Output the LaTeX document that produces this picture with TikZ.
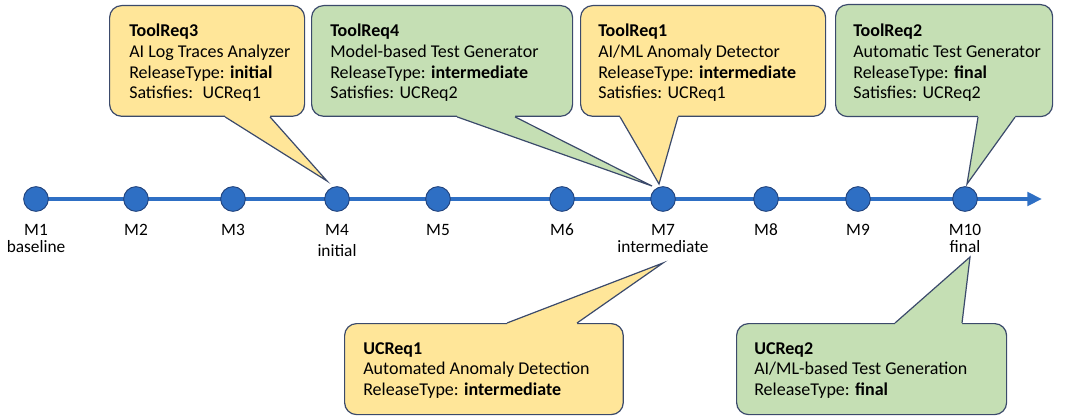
\documentclass[tikz,border=0pt]{standalone}
\usepackage{fontspec}
\setmainfont{Carlito}
\usetikzlibrary{arrows.meta,positioning,backgrounds}

\definecolor{axisblue}{HTML}{2E6FC4}
\definecolor{dotedge}{HTML}{22447E}
\definecolor{noteyellow}{HTML}{FFE699}
\definecolor{notegreen}{HTML}{C5DFB4}
\definecolor{noteedge}{HTML}{3B4A6B}

\begin{document}
\begin{tikzpicture}[x=0.75pt, y=-0.75pt,
  milestone/.style={circle, fill=axisblue, draw=dotedge, line width=0.7pt, minimum size=18.5pt, inner sep=0pt},
  mlabel/.style={inner sep=0pt, align=center, font=\fontsize{13}{12.75}\selectfont},
  note/.style={rectangle, rounded corners=9pt, draw=noteedge, line width=0.9pt, inner sep=0pt, anchor=north west},
  notetext/.style={anchor=north west, inner sep=0pt, align=left, font=\fontsize{13.5}{15.5}\selectfont},
  pointer/.style={draw=noteedge, line width=0.9pt, line join=miter},
  axis/.style={draw=axisblue, line width=3.3pt, -{Triangle[length=11pt, width=10pt]}}
]
\useasboundingbox (0,0) rectangle (1069,417);

% Milestones on the time axis
\foreach \i/\x in {1/36, 2/136, 3/233, 4/337, 5/438, 6/562, 7/663, 8/766, 9/858, 10/965}
  \node[milestone] (m\i) at (\x,199) {};
\coordinate (axisend) at (1042,199);

% Time axis behind the milestones
\begin{scope}[on background layer]
\draw[axis] (m1.center) -- (axisend);
\end{scope}

% Milestone labels
\node[mlabel, below=9pt of m1] (l1) {M1\\baseline};
\node[mlabel, below=9pt of m2] (l2) {M2};
\node[mlabel, below=9pt of m3] (l3) {M3};
\node[mlabel, below=9pt of m4] (l4) {M4\\[3pt]initial};
\node[mlabel, below=9pt of m5] (l5) {M5};
\node[mlabel, below=9pt of m6] (l6) {M6};
\node[mlabel, below=9pt of m7] (l7) {M7\\intermediate};
\node[mlabel, below=9pt of m8] (l8) {M8};
\node[mlabel, below=9pt of m9] (l9) {M9};
\node[mlabel, below=9pt of m10] (l10) {M10\\final};

% Pointer tips of the callouts
\coordinate (tr3tip) at ([shift={(-10,-18)}]m4.center);
\coordinate (tr4tip) at ([shift={(-11,-13)}]m7.center);
\coordinate (tr1tip) at ([shift={(-4,-15)}]m7.center);
\coordinate (tr2tip) at ([shift={(2,-15)}]m10.center);
\coordinate (uc1tip) at ([shift={(0,64)}]m7.center);
\coordinate (uc2tip) at ([shift={(5,58)}]m10.center);

% ToolReq3 callout (yellow, to M4)
\node[note, fill=noteyellow, minimum width=146.25pt, minimum height=83pt] (tr3) at (109,5) {};
\node[notetext] (tr3text) at ([shift={(20,19)}]tr3.north west) {\textbf{ToolReq3}\\AI Log Traces Analyzer\\ReleaseType: \textbf{initial}\\Satisfies:~ UCReq1};
\coordinate (tr3a) at ([shift={(116,0)}]tr3.south west);
\coordinate (tr3b) at ([shift={(161,0)}]tr3.south west);
\fill[noteyellow] (tr3a) ++(0,-4) -- (tr3a) -- (tr3tip) -- (tr3b) -- ++(0,-4) -- cycle;
\draw[pointer] (tr3a) -- (tr3tip) -- (tr3b);

% ToolReq4 callout (green, to M7)
\node[note, fill=notegreen, minimum width=195.75pt, minimum height=83pt] (tr4) at (311,5) {};
\node[notetext] (tr4text) at ([shift={(19,19)}]tr4.north west) {\textbf{ToolReq4}\\Model-based Test Generator\\ReleaseType: \textbf{intermediate}\\Satisfies: UCReq2};
\coordinate (tr4a) at ([shift={(146,0)}]tr4.south west);
\coordinate (tr4b) at ([shift={(204,0)}]tr4.south west);
\fill[notegreen] (tr4a) ++(0,-4) -- (tr4a) -- (tr4tip) -- (tr4b) -- ++(0,-4) -- cycle;
\draw[pointer] (tr4a) -- (tr4tip) -- (tr4b);

% ToolReq1 callout (yellow, to M7)
\node[note, fill=noteyellow, minimum width=183.75pt, minimum height=83pt] (tr1) at (580,5) {};
\node[notetext] (tr1text) at ([shift={(18,19)}]tr1.north west) {\textbf{ToolReq1}\\AI/ML Anomaly Detector\\ReleaseType: \textbf{intermediate}\\Satisfies: UCReq1};
\coordinate (tr1a) at ([shift={(40,0)}]tr1.south west);
\coordinate (tr1b) at ([shift={(98,0)}]tr1.south west);
\fill[noteyellow] (tr1a) ++(0,-4) -- (tr1a) -- (tr1tip) -- (tr1b) -- ++(0,-4) -- cycle;
\draw[pointer] (tr1a) -- (tr1tip) -- (tr1b);

% ToolReq2 callout (green, to M10)
\node[note, fill=notegreen, minimum width=162.75pt, minimum height=84pt] (tr2) at (835,4) {};
\node[notetext] (tr2text) at ([shift={(18,20)}]tr2.north west) {\textbf{ToolReq2}\\Automatic Test Generator\\ReleaseType: \textbf{final}\\Satisfies: UCReq2};
\coordinate (tr2a) at ([shift={(143,0)}]tr2.south west);
\coordinate (tr2b) at ([shift={(180,0)}]tr2.south west);
\fill[notegreen] (tr2a) ++(0,-4) -- (tr2a) -- (tr2tip) -- (tr2b) -- ++(0,-4) -- cycle;
\draw[pointer] (tr2a) -- (tr2tip) -- (tr2b);

% UCReq1 callout (yellow, from below to M7)
\node[note, fill=noteyellow, minimum width=209pt, minimum height=68.25pt] (uc1) at (344,323) {};
\node[notetext] (uc1text) at ([shift={(19,19)}]uc1.north west) {\textbf{UCReq1}\\Automated Anomaly Detection\\ReleaseType: \textbf{intermediate}};
\coordinate (uc1a) at ([shift={(163,0)}]uc1.north west);
\coordinate (uc1b) at ([shift={(233,0)}]uc1.north west);
\fill[noteyellow] (uc1a) ++(0,4) -- (uc1a) -- (uc1tip) -- (uc1b) -- ++(0,4) -- cycle;
\draw[pointer] (uc1a) -- (uc1tip) -- (uc1b);

% UCReq2 callout (green, from below to M10)
\node[note, fill=notegreen, minimum width=202.5pt, minimum height=68.25pt] (uc2) at (736,323) {};
\node[notetext] (uc2text) at ([shift={(18,19)}]uc2.north west) {\textbf{UCReq2}\\AI/ML-based Test Generation\\ReleaseType: \textbf{final}};
\coordinate (uc2a) at ([shift={(159,0)}]uc2.north west);
\coordinate (uc2b) at ([shift={(226,0)}]uc2.north west);
\fill[notegreen] (uc2a) ++(0,4) -- (uc2a) -- (uc2tip) -- (uc2b) -- ++(0,4) -- cycle;
\draw[pointer] (uc2a) -- (uc2tip) -- (uc2b);

\end{tikzpicture}
\end{document}
